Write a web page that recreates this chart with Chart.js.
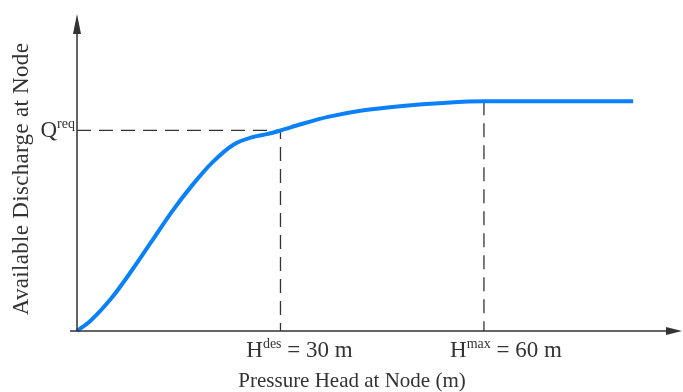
<!DOCTYPE html>
<html>
<head>
<meta charset="utf-8">
<script src="https://cdn.jsdelivr.net/npm/chart.js@4/dist/chart.umd.min.js"></script>
<style>
  html, body { margin: 0; padding: 0; background: #fff; }
  #wrap { width: 683px; height: 392px; }
</style>
</head>
<body>
<div id="wrap"><canvas id="chart" width="683" height="392"></canvas></div>
<script>
// pressure head (m) and available discharge (fraction of Qmax)
const headM     = [0, 2, 5, 8, 11, 14, 17, 20, 23, 26, 28, 30, 33, 37, 42, 48, 54, 60, 82];
const discharge = [0, 0.045, 0.14, 0.26, 0.39, 0.52, 0.635, 0.735, 0.81, 0.845, 0.857, 0.873, 0.9, 0.932, 0.96, 0.98, 0.993, 1.0, 1.0];

const qReq = 0.873;
const hDes = 30;
const hMax = 60;
const qMax = 1.0;

const xTitle = 'Pressure Head at Node (m)';
const yTitle = 'Available Discharge at Node';

const FONT = '"Liberation Serif", "Times New Roman", serif';
const INK  = '#333';

// — axes with arrow heads + text labels —
const decorPlugin = {
  id: 'decor',
  afterDatasetsDraw(chart) {
    const { ctx, scales: { x, y } } = chart;
    const x0 = x.getPixelForValue(0), y0 = y.getPixelForValue(0);
    const xEnd = x.right, yEnd = y.top;
    ctx.save();
    ctx.strokeStyle = INK;
    ctx.fillStyle = INK;
    ctx.lineWidth = 1.5;
    ctx.beginPath();
    ctx.moveTo(x0 - 7, y0); ctx.lineTo(xEnd - 10, y0);
    ctx.moveTo(x0, y0); ctx.lineTo(x0, yEnd + 10);
    ctx.stroke();
    // arrows
    ctx.beginPath();
    ctx.moveTo(xEnd, y0); ctx.lineTo(xEnd - 16, y0 - 4); ctx.lineTo(xEnd - 16, y0 + 4); ctx.closePath();
    ctx.fill();
    ctx.beginPath();
    ctx.moveTo(x0, yEnd); ctx.lineTo(x0 - 4, yEnd + 20); ctx.lineTo(x0 + 4, yEnd + 20); ctx.closePath();
    ctx.fill();

    // superscripted labels
    function supLabel(base, sup, rest, cx, cy, align) {
      ctx.textBaseline = 'alphabetic';
      ctx.textAlign = 'left';
      ctx.font = '23px ' + FONT;
      const wb = ctx.measureText(base).width;
      const wr = ctx.measureText(rest).width;
      ctx.font = '14px ' + FONT;
      const ws = ctx.measureText(sup).width;
      const total = wb + ws + wr;
      let sx = align === 'right' ? cx - total : cx - total / 2;
      ctx.font = '23px ' + FONT;
      ctx.fillText(base, sx, cy);
      ctx.font = '14px ' + FONT;
      ctx.fillText(sup, sx + wb, cy - 9);
      ctx.font = '23px ' + FONT;
      ctx.fillText(rest, sx + wb + ws, cy);
    }
    supLabel('H', 'des', ' = 30 m', x.getPixelForValue(hDes) + 19, y0 + 26, 'center');
    supLabel('H', 'max', ' = 60 m', x.getPixelForValue(hMax) + 22, y0 + 26, 'center');
    supLabel('Q', 'req', '', x0 - 2, y.getPixelForValue(qReq) + 7, 'right');

    ctx.font = '21px ' + FONT;
    ctx.textAlign = 'center';
    ctx.textBaseline = 'middle';
    ctx.fillText(xTitle, 352, 381);
    ctx.font = '23px ' + FONT;
    ctx.letterSpacing = '0.3px';
    ctx.translate(22, 179);
    ctx.rotate(-Math.PI / 2);
    ctx.fillText(yTitle, 0, 0);
    ctx.restore();
  }
};

const ctx = document.getElementById('chart').getContext('2d');
new Chart(ctx, {
  type: 'line',
  data: {
    datasets: [
      {
        data: headM.map((h, i) => ({ x: h, y: discharge[i] })),
        borderColor: '#0a80fa',
        borderWidth: 4,
        pointRadius: 0,
        cubicInterpolationMode: 'monotone',
        fill: false,
        clip: false,
        order: 0
      },
      {
        data: [{ x: 0, y: qReq }, { x: hDes, y: qReq }, { x: hDes, y: 0 }],
        borderColor: INK,
        borderWidth: 1.3,
        borderDash: [14, 8],
        pointRadius: 0,
        tension: 0,
        clip: false,
        order: 1
      },
      {
        data: [{ x: hMax, y: qMax }, { x: hMax, y: 0 }],
        borderColor: INK,
        borderWidth: 1.3,
        borderDash: [14, 8],
        pointRadius: 0,
        tension: 0,
        clip: false,
        order: 1
      }
    ]
  },
  options: {
    responsive: false,
    animation: false,
    layout: { padding: { left: 77, right: 1, top: 14, bottom: 61 } },
    plugins: { legend: { display: false }, tooltip: { enabled: false } },
    scales: {
      x: { type: 'linear', min: 0, max: 89.2, display: false },
      y: { type: 'linear', min: 0, max: 1.38, display: false }
    }
  },
  plugins: [decorPlugin]
});
</script>
</body>
</html>
